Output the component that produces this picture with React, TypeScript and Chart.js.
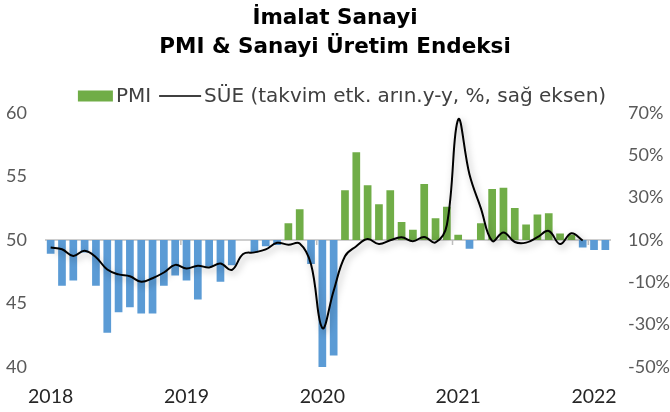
import React, { useEffect, useRef } from 'react';
import { Chart, registerables } from 'chart.js';

Chart.register(...registerables);

const FONT = 'Lato, "Liberation Sans", sans-serif';
const WIDE_FONT = '"DejaVu Sans", Verdana, sans-serif';
const GREEN = '#70AD47';
const BLUE = '#5B9BD5';

const TITLE = ['İmalat Sanayi', 'PMI & Sanayi Üretim Endeksi'];
const PMI_LABEL = 'PMI';
const SUE_LABEL = 'SÜE (takvim etk. arın.y-y, %, sağ eksen)';

const months = [
  '2018-04', '2018-05', '2018-06', '2018-07', '2018-08', '2018-09', '2018-10', '2018-11', '2018-12',
  '2019-01', '2019-02', '2019-03', '2019-04', '2019-05', '2019-06', '2019-07', '2019-08', '2019-09', '2019-10', '2019-11', '2019-12',
  '2020-01', '2020-02', '2020-03', '2020-04', '2020-05', '2020-06', '2020-07', '2020-08', '2020-09', '2020-10', '2020-11', '2020-12',
  '2021-01', '2021-02', '2021-03', '2021-04', '2021-05', '2021-06', '2021-07', '2021-08', '2021-09', '2021-10', '2021-11', '2021-12',
  '2022-01', '2022-02', '2022-03', '2022-04', '2022-05',
];

const yearTickIndex = [0, 12, 24, 36, 48];
const yearTickLabels = ['2018', '2019', '2020', '2021', '2022'];

const pmi = [
  48.9, 46.4, 46.8, 49.0, 46.4, 42.7, 44.3, 44.7, 44.2,
  44.2, 46.4, 47.2, 46.8, 45.3, 47.9, 46.7, 48.0, 50.0, 49.0, 49.5, 49.6,
  51.3, 52.4, 48.1, 33.4, 40.9, 53.9, 56.9, 54.3, 52.8, 53.9, 51.4, 50.8,
  54.4, 51.7, 52.6, 50.4, 49.3, 51.3, 54.0, 54.1, 52.5, 51.2, 52.0, 52.1,
  50.5, 50.4, 49.4, 49.2, 49.2,
];

const sue = [
  6.4, 5.6, 2.4, 4.9, 1.8, -4.0, -6.3, -7.2, -9.8,
  -8.1, -5.4, -1.8, -3.5, -2.2, -3.0, -1.2, -4.2, 3.3, 4.1, 5.5, 8.6,
  7.7, 8.3, -1.5, -31.6, -14.0, 2.3, 7.0, 10.4, 8.0, 9.8, 11.2, 9.4,
  11.4, 8.8, 17.0, 66.8, 40.8, 25.0, 9.5, 13.5, 9.0, 8.7, 11.3, 14.2,
  8.0, 13.1, 9.7,
];

const leftTicks = { min: 40, max: 60, step: 5 };
const rightTicks = { min: -50, max: 70, step: 20 };
const PMI_BASE = 50;

const lineShadow = {
  id: 'lineShadow',
  beforeDatasetDraw(chart: any, args: any) {
    if (chart.data.datasets[args.index].type === 'line') {
      const c = chart.ctx;
      c.save();
      c.shadowColor = 'rgba(0,0,0,0.35)';
      c.shadowBlur = 7;
      c.shadowOffsetX = 2;
      c.shadowOffsetY = 3;
    }
  },
  afterDatasetDraw(chart: any, args: any) {
    if (chart.data.datasets[args.index].type === 'line') chart.ctx.restore();
  },
};

const baseline = {
  id: 'baseline',
  beforeDatasetsDraw(chart: any) {
    const { ctx, chartArea, scales } = chart;
    const y = scales.y.getPixelForValue(PMI_BASE);
    ctx.save();
    ctx.strokeStyle = '#BFBFBF';
    ctx.lineWidth = 1.5;
    ctx.beginPath();
    ctx.moveTo(chartArea.left, y);
    ctx.lineTo(chartArea.right, y);
    const half = (scales.x.getPixelForValue(1) - scales.x.getPixelForValue(0)) / 2;
    yearTickIndex.slice(1).forEach((i) => {
      const x = scales.x.getPixelForValue(i) - half;
      ctx.moveTo(x, y);
      ctx.lineTo(x, y + 5);
    });
    ctx.stroke();
    ctx.restore();
  },
};

const customLegend = {
  id: 'customLegend',
  afterDraw(chart: any) {
    const ctx = chart.ctx;
    ctx.save();
    ctx.font = `20px ${WIDE_FONT}`;
    ctx.textBaseline = 'middle';
    const boxW = 35, boxH = 11, lineW = 42, gap = 3, itemGap = 8;
    const w1 = ctx.measureText(PMI_LABEL).width;
    const w2 = ctx.measureText(SUE_LABEL).width;
    const total = boxW + gap + w1 + itemGap + lineW + gap + w2;
    let x = 342 - total / 2;
    const y = 96;
    ctx.fillStyle = GREEN;
    ctx.fillRect(x, y - boxH / 2, boxW, boxH);
    x += boxW + gap;
    ctx.fillStyle = '#404040';
    ctx.fillText(PMI_LABEL, x, y + 1);
    x += w1 + itemGap;
    ctx.strokeStyle = '#000';
    ctx.lineWidth = 1.5;
    ctx.beginPath();
    ctx.moveTo(x, y);
    ctx.lineTo(x + lineW, y);
    ctx.stroke();
    x += lineW + gap;
    ctx.fillText(SUE_LABEL, x, y + 1);
    ctx.restore();
  },
};

export default function App() {
  const ref = useRef<HTMLCanvasElement>(null);

  useEffect(() => {
    document.body.style.margin = '0';
    const chart = new Chart(ref.current as HTMLCanvasElement, {
      data: {
        labels: months,
        datasets: [
          {
            type: 'line',
            label: SUE_LABEL,
            data: sue,
            yAxisID: 'y1',
            borderColor: '#000000',
            borderWidth: 2,
            pointRadius: 0,
            tension: 0.4,
            fill: false,
            order: 0,
          } as any,
          {
            type: 'bar',
            label: PMI_LABEL,
            data: pmi.map((v) => [PMI_BASE, v]),
            backgroundColor: pmi.map((v) => (v >= PMI_BASE ? GREEN : BLUE)),
            yAxisID: 'y',
            barPercentage: 0.68,
            categoryPercentage: 1,
            order: 1,
          } as any,
        ],
      },
      options: {
        animation: false,
        responsive: false,
        layout: { padding: 0 },
        plugins: {
          legend: { display: false },
          tooltip: { enabled: false },
          title: {
            display: true,
            text: TITLE,
            color: '#000000',
            font: { family: WIDE_FONT, size: 21.5, weight: 'bold', lineHeight: 1.35 },
            padding: { top: 3.8, bottom: 50.9 },
          },
        },
        scales: {
          x: {
            type: 'category',
            offset: true,
            grid: { display: false },
            border: { display: false },
            ticks: {
              autoSkip: false,
              maxRotation: 0,
              padding: 10,
              color: '#262626',
              font: { family: FONT, size: 19.5 },
              callback: (_v: any, i: number) => {
                const k = yearTickIndex.indexOf(i);
                return k >= 0 ? yearTickLabels[k] : '';
              },
            },
            afterFit: (s: any) => { s.height = 45; },
          },
          y: {
            position: 'left',
            min: leftTicks.min,
            max: leftTicks.max,
            grid: { display: false },
            border: { display: false },
            ticks: { stepSize: leftTicks.step, padding: 10, color: '#595959', font: { family: FONT, size: 18 } },
            afterFit: (s: any) => { s.width = 45; },
          },
          y1: {
            position: 'right',
            min: rightTicks.min,
            max: rightTicks.max,
            grid: { display: false },
            border: { display: false },
            ticks: {
              stepSize: rightTicks.step,
              padding: 9,
              color: '#595959',
              font: { family: FONT, size: 18 },
              callback: (v: any) => `${v}%`,
            },
            afterFit: (s: any) => { s.width = 59; },
          },
        },
      },
      plugins: [baseline, lineShadow, customLegend],
    } as any);
    return () => chart.destroy();
  }, []);

  return (
    <div style={{ width: 670, height: 412 }}>
      <canvas ref={ref} width={670} height={412} />
    </div>
  );
}
